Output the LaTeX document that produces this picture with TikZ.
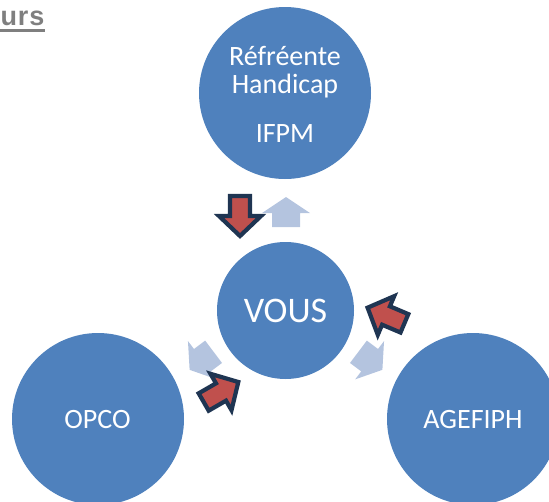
\documentclass[tikz,border=0pt]{standalone}
\usepackage{fontspec}
\setmainfont{Carlito}
\newfontfamily\titlefont[LetterSpace=3]{Liberation Sans}
\definecolor{circblue}{HTML}{4F81BD}
\definecolor{lightarrow}{HTML}{B4C4DF}
\definecolor{redarrow}{HTML}{C0504D}
\definecolor{darkline}{HTML}{1F3552}
\definecolor{titlegray}{HTML}{7F7F7F}
\begin{document}
\begin{tikzpicture}[x=1pt,y=-1pt,
  circ/.style={circle,fill=circblue,inner sep=0pt,draw=none},
  ctext/.style={text=white,inner sep=0pt,anchor=base,font=\fontsize{28}{33}\selectfont},
  lightarr/.pic={\fill[lightarrow] (-15,-14) -- (-1,-14) -- (-1,-24) -- (15,0) -- (-1,24) -- (-1,14) -- (-15,14) -- cycle;},
  redarr/.pic={\filldraw[fill=redarrow,draw=darkline,line width=4.2pt,line join=miter] (-20,-10) -- (0,-10) -- (0,-21) -- (20,0) -- (0,21) -- (0,10) -- (-20,10) -- cycle;}
]
\useasboundingbox (0,0) rectangle (549,501);
\clip (0,0) rectangle (549,501);
% title fragment
\node[anchor=base west,inner sep=0pt,text=titlegray,font=\titlefont\bfseries\fontsize{27}{32}\selectfont] (title) at (0.5,25) {urs};
\draw[titlegray,line width=2.7pt] (0,30.6) -- (45,30.6);
% circles
\node[circ,minimum size=172pt] (ref) at (285,93) {};
\node[circ,minimum size=137pt] (vous) at (285.5,310.5) {};
\node[circ,minimum size=172pt] (opco) at (98,419) {};
\node[circ,minimum size=172pt] (agef) at (473,419) {};
% texts
\node[ctext] (t1) at (285,65) {Réfréente};
\node[ctext] (t2) at (285,93) {Handicap};
\node[ctext] (t3) at (285,142) {IFPM};
\node[ctext,font=\fontsize{36}{43}\selectfont] (tv) at (285.5,322) {VOUS};
\node[ctext,font=\fontsize{28}{34}\selectfont] (to) at (97.5,428) {OPCO};
\node[ctext,font=\fontsize{28}{34}\selectfont] (ta) at (473,428) {AGEFIPH};
% light arrows (from VOUS outward)
\pic[rotate=90] at (286,212) {lightarr};
\pic[rotate=217] at (201.6,360.8) {lightarr};
\pic[rotate=-37] at (370.4,360.8) {lightarr};
% red arrows (towards VOUS)
\pic[rotate=-90] at (240,216) {redarr};
\pic[rotate=30] at (221,392) {redarr};
\pic[rotate=157] at (386,315.5) {redarr};
\end{tikzpicture}
\end{document}
